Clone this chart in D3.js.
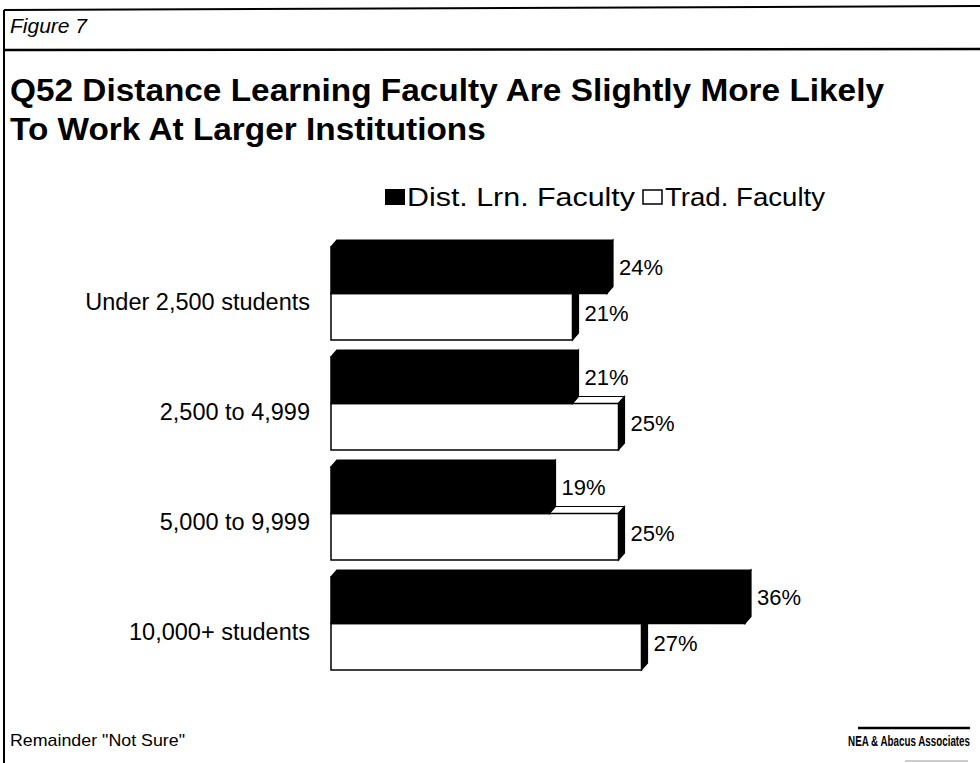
<!DOCTYPE html>
<html>
  <head>
    <meta charset="utf-8">
    <title>Figure 7</title>
    <script src="https://cdnjs.cloudflare.com/ajax/libs/d3/7.8.5/d3.min.js"></script>
    <style>
      body { margin: 0; background-color: #FFF }
      svg { display: block; background-color: #FFF; font-family: "Liberation Sans", Arial, sans-serif }
    </style>
  </head>
  <body>
    <svg width="980" height="763"></svg>
    <script>
      // data
      var categories = ["Under 2,500 students", "2,500 to 4,999", "5,000 to 9,999", "10,000+ students"];
      var seriesNames = ["Dist. Lrn. Faculty", "Trad. Faculty"];
      var distLrn = [24, 21, 19, 36];
      var tradFac = [21, 25, 25, 27];

      var svg = d3.select("svg");

      // stretch a text element horizontally to a given width
      function fitWidth(sel, w) {
        sel.attr("textLength", w).attr("lengthAdjust", "spacingAndGlyphs");
        return sel;
      }

      // frame
      svg.append("line").attr("x1", 4).attr("y1", 10).attr("x2", 4).attr("y2", 763)
        .attr("stroke", "#000").attr("stroke-width", 2);
      svg.append("line").attr("x1", 4).attr("y1", 10).attr("x2", 980).attr("y2", 6)
        .attr("stroke", "#000").attr("stroke-width", 2);
      svg.append("line").attr("x1", 4).attr("y1", 50).attr("x2", 980).attr("y2", 49)
        .attr("stroke", "#000").attr("stroke-width", 2.5);

      svg.append("text").attr("x", 10).attr("y", 33)
        .style("font-size", "21px").style("font-style", "italic")
        .text("Figure 7");

      // title, widened to the reference width
      var t1 = svg.append("text").attr("x", 10).attr("y", 101)
        .style("font-size", "31px").style("font-weight", "bold")
        .text("Q52 Distance Learning Faculty Are Slightly More Likely");
      var t2 = svg.append("text").attr("x", 10).attr("y", 140)
        .style("font-size", "31px").style("font-weight", "bold")
        .text("To Work At Larger Institutions");
      var k = 874 / t1.node().getComputedTextLength();
      fitWidth(t1, 874);
      fitWidth(t2, t2.node().getComputedTextLength() * k);

      // scales
      var x = d3.scaleLinear().domain([0, 40]).range([331, 791]);
      var y = d3.scaleBand().domain(categories).range([247, 670]).paddingInner(17 / 110);
      var ySub = d3.scaleBand().domain(seriesNames).range([0, y.bandwidth()]);

      var dx = 6, dy = 7;

      var rows = categories.map(function(c, i) {
        return [
          {cat: c, s: seriesNames[0], v: distLrn[i], fill: "#000"},
          {cat: c, s: seriesNames[1], v: tradFac[i], fill: "#FFF"}
        ];
      });

      function drawBar(g, d) {
        var x0 = x(0), x1 = x(d.v);
        var y0 = y(d.cat) + ySub(d.s), y1 = y0 + ySub.bandwidth();
        // top face
        g.append("polygon")
          .attr("points", [[x0, y0], [x0 + dx, y0 - dy], [x1 + dx, y0 - dy], [x1, y0]].join(" "))
          .attr("fill", d.fill).attr("stroke", "#000").attr("stroke-width", 1.2).attr("stroke-linejoin", "round");
        // side face
        g.append("polygon")
          .attr("points", [[x1, y0], [x1 + dx, y0 - dy], [x1 + dx, y1 - dy], [x1, y1]].join(" "))
          .attr("fill", "#000").attr("stroke", "#000").attr("stroke-width", 1.2);
        // front face
        g.append("rect")
          .attr("x", x0).attr("y", y0).attr("width", x1 - x0).attr("height", y1 - y0)
          .attr("fill", d.fill).attr("stroke", "#000").attr("stroke-width", 1.5);
        g.append("text")
          .attr("x", x1 + dx + 6).attr("y", (y0 - dy + y1) / 2 + 8)
          .style("font-size", "22px")
          .text(d.v + "%");
      }

      var groups = svg.selectAll("g.grp").data(rows).enter().append("g").attr("class", "grp");
      groups.each(function(r) {
        var g = d3.select(this);
        drawBar(g, r[1]);
        drawBar(g, r[0]);
      });

      // category labels
      svg.selectAll("text.cat").data(categories).enter().append("text")
        .attr("class", "cat")
        .attr("x", 310)
        .attr("y", function(d) { return y(d) + y.bandwidth() / 2 + 16; })
        .attr("text-anchor", "end")
        .style("font-size", "23.5px")
        .text(function(d) { return d; });

      // legend
      var legend = svg.append("g").attr("transform", "translate(385,189)");
      legend.append("rect").attr("x", 0).attr("y", 0).attr("width", 20).attr("height", 16).attr("fill", "#000");
      fitWidth(legend.append("text").attr("x", 22).attr("y", 17).style("font-size", "25px").text(seriesNames[0]), 228);
      legend.append("rect").attr("x", 258).attr("y", 1).attr("width", 19).attr("height", 14)
        .attr("fill", "#FFF").attr("stroke", "#000").attr("stroke-width", 1.5);
      fitWidth(legend.append("text").attr("x", 280).attr("y", 17).style("font-size", "25px").text(seriesNames[1]), 160);

      // footer
      fitWidth(svg.append("text").attr("x", 10).attr("y", 746).style("font-size", "17px")
        .text("Remainder \"Not Sure\""), 175);
      svg.append("line").attr("x1", 858).attr("y1", 728).attr("x2", 970).attr("y2", 728)
        .attr("stroke", "#000").attr("stroke-width", 2.5);
      svg.append("g").attr("transform", "translate(970,746) scale(0.7,1)")
        .append("text").attr("text-anchor", "end")
        .style("font-size", "14px").style("font-weight", "bold").text("NEA & Abacus Associates");
      svg.append("line").attr("x1", 905).attr("y1", 761).attr("x2", 968).attr("y2", 761)
        .attr("stroke", "#999").attr("stroke-width", 1);
    </script>
  </body>
</html>
